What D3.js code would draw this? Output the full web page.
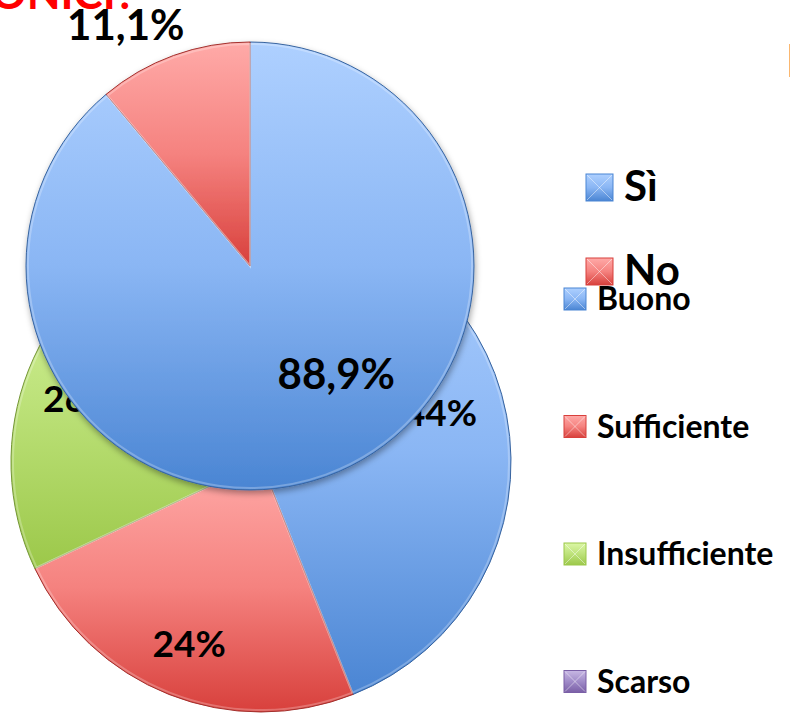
<!DOCTYPE html>
<html lang="it">
<head>
<meta charset="UTF-8">
<title>Torte sovrapposte</title>
<script src="https://d3js.org/d3.v7.min.js"></script>
<style>
  body { margin: 0; background: #fff; }
  svg text { font-family: Lato, "Open Sans", sans-serif; font-weight: bold; }
</style>
</head>
<body>
<div id="chart"></div>
<script>
const width = 790, height = 715;

// torta dietro: giudizio
const giudizi = ["Buono", "Sufficiente", "Insufficiente", "Scarso"];
const giudiziValori = [44, 24, 26, 6];
const giudiziEtichette = ["44%", "24%", "26%", "6%"];

// torta davanti: sì / no
const risposte = ["Sì", "No"];
const risposteValori = [88.9, 11.1];
const risposteEtichette = ["88,9%", "11,1%"];

// colori (chiaro in alto, scuro in basso)
const colori = {
  blu:   ["#aed0ff", "#8ab6f4", "#4a85d3"],
  rosso: ["#ffaaa8", "#f5827f", "#d8403c"],
  verde: ["#dcf7a6", "#bde27a", "#9cc84a"],
  viola: ["#c8b8e4", "#a08bc8", "#7a5fa6"]
};
const coloriGiudizi = ["blu", "rosso", "verde", "viola"];
const coloriRisposte = ["blu", "rosso"];

const svg = d3.select("#chart").append("svg")
  .attr("width", width).attr("height", height);

const defs = svg.append("defs");
Object.entries(colori).forEach(([k, c]) => {
  const g = defs.append("linearGradient").attr("id", "g-" + k)
    .attr("x1", 0).attr("y1", 0).attr("x2", 0).attr("y2", 1);
  g.append("stop").attr("offset", "0%").attr("stop-color", c[0]);
  g.append("stop").attr("offset", "50%").attr("stop-color", c[1]);
  g.append("stop").attr("offset", "100%").attr("stop-color", c[2]);
});
const ombra = defs.append("filter").attr("id", "ombra")
  .attr("x", "-20%").attr("y", "-20%").attr("width", "140%").attr("height", "140%");
ombra.append("feDropShadow").attr("dx", 1).attr("dy", 3)
  .attr("stdDeviation", 3).attr("flood-color", "#000").attr("flood-opacity", 0.35);

const pie = d3.pie().sort(null).value(d => d);

// disegna una torta con le sue etichette
function torta(cx, cy, r, valori, nomiColori, etichette, opts) {
  const g = svg.append("g").attr("transform", `translate(${cx},${cy})`);
  const fette = g.append("g");
  if (opts.ombra) fette.attr("filter", "url(#ombra)");
  const arc = d3.arc().innerRadius(0).outerRadius(r);
  const arcBordo = d3.arc().innerRadius(0).outerRadius(r - 2);
  const arcLab = d3.arc().innerRadius(opts.rLab).outerRadius(opts.rLab);
  const archi = pie(valori);

  fette.selectAll("path.fetta").data(archi).join("path")
    .attr("class", "fetta")
    .attr("d", arc)
    .attr("fill", (d, i) => `url(#g-${nomiColori[i]})`)
    .attr("stroke", (d, i) => d3.color(colori[nomiColori[i]][2]).darker(0.8))
    .attr("stroke-width", 1);

  // riflesso del bordo
  g.selectAll("path.riflesso").data(archi).join("path")
    .attr("class", "riflesso")
    .attr("d", arcBordo)
    .attr("fill", "none")
    .attr("stroke", "#fff").attr("stroke-opacity", 0.25)
    .attr("stroke-width", 2);

  g.selectAll("text").data(archi).join("text")
    .attr("x", (d, i) => arcLab.centroid(d)[0] + opts.spost[i][0])
    .attr("y", (d, i) => arcLab.centroid(d)[1] + opts.spost[i][1])
    .attr("text-anchor", "middle")
    .attr("dy", "0.36em")
    .attr("font-size", opts.fs)
    .attr("fill", "#000")
    .text((d, i) => etichette[i]);
  return g;
}

torta(261, 462, 250, giudiziValori, coloriGiudizi, giudiziEtichette,
  { rLab: 195, fs: 37, spost: [[-12, -13], [0, 0], [0, 8], [0, 0]] });

torta(250, 266, 224, risposteValori, coloriRisposte, risposteEtichette,
  { rLab: 150, fs: 42, ombra: true, spost: [[35, -33], [-73, -100]] });

// legende
function legenda(x, y0, passo, nomi, nomiColori, lato, fs) {
  const g = svg.append("g");
  const voci = g.selectAll("g").data(nomi).join("g")
    .attr("transform", (d, i) => `translate(${x},${y0 + i * passo})`);
  voci.append("rect")
    .attr("x", 0).attr("y", -lato).attr("width", lato).attr("height", lato)
    .attr("fill", (d, i) => `url(#g-${nomiColori[i]})`)
    .attr("stroke", (d, i) => colori[nomiColori[i]][2]).attr("stroke-width", 1);
  voci.append("path")
    .attr("d", `M1,${-lato + 1}L${lato - 1},-1M${lato - 1},${-lato + 1}L1,-1`)
    .attr("stroke", "#fff").attr("stroke-opacity", 0.45).attr("stroke-width", 1);
  voci.append("text")
    .attr("x", lato + 11).attr("y", 0)
    .attr("font-size", fs).attr("fill", "#000")
    .text(d => d);
}

legenda(586, 201, 84, risposte, coloriRisposte, 27, 42);
legenda(564, 310, 127.5, giudizi, coloriGiudizi, 22, 32);

// titolo tagliato in alto
svg.append("text")
  .attr("x", 136).attr("y", 9)
  .attr("text-anchor", "end")
  .attr("font-size", 44).attr("fill", "#ff0000")
  .text("STRUMENTI ELETTRONICI?");
svg.append("text")
  .attr("x", 786).attr("y", 77)
  .attr("font-size", 46).attr("fill", "#e03030")
  .text("D");
</script>
</body>
</html>
